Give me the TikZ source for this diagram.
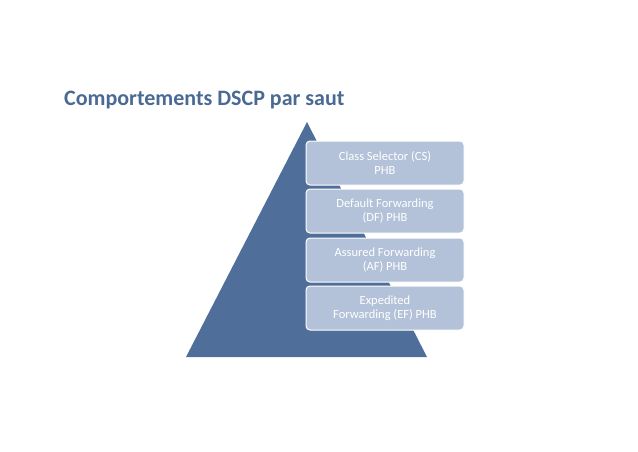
\documentclass[tikz,border=0pt]{standalone}
\usepackage{fontspec}
\setmainfont{Carlito}
\definecolor{tri}{HTML}{4F6F9A}
\definecolor{boxc}{HTML}{B3C2D8}
\definecolor{ttl}{HTML}{4A6A94}
\begin{document}
\begin{tikzpicture}[x=1pt,y=-1pt,
  lvl/.style={draw=white,line width=1pt,fill=boxc,rounded corners=4pt,minimum width=158pt,minimum height=44pt,text=white,align=center,font=\fontsize{12.5}{14.5}\selectfont,inner sep=1pt}]
\useasboundingbox (0,0) rectangle (638,452);
\node[anchor=west,text=ttl,font=\fontsize{22}{26}\selectfont\bfseries,inner sep=0] (title) at (64,100) {Comportements DSCP par saut};
\fill[tri] (307,122) -- (427,357) -- (186,357) -- cycle;
\node[lvl] (cs) at (385,163) {Class Selector (CS)\\PHB};
\node[lvl] (df) at (385,211) {Default Forwarding\\(DF) PHB};
\node[lvl] (af) at (385,260) {Assured Forwarding\\(AF) PHB};
\node[lvl] (ef) at (385,308) {Expedited\\Forwarding (EF) PHB};
\end{tikzpicture}
\end{document}
